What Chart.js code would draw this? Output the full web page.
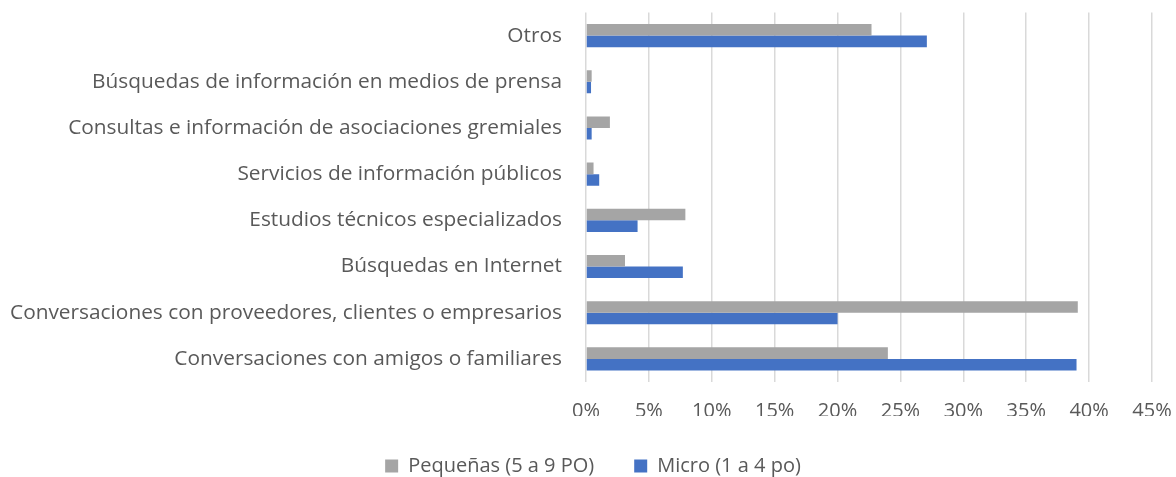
<!DOCTYPE html>
<html>
<head>
<meta charset="utf-8">
<script src="https://cdn.jsdelivr.net/npm/chart.js@4/dist/chart.umd.min.js"></script>
<style>
  html, body { margin: 0; padding: 0; background: #fff; }
  #wrap { width: 1176px; height: 477px; }
</style>
</head>
<body>
<div id="wrap"><canvas id="grafica"></canvas></div>
<script>
var categorias = [
    "Otros",
    "Búsquedas de información en medios de prensa",
    "Consultas e información de asociaciones gremiales",
    "Servicios de información públicos",
    "Estudios técnicos especializados",
    "Búsquedas en Internet",
    "Conversaciones con proveedores, clientes o empresarios",
    "Conversaciones con amigos o familiares"
];
var pequenas = [0.227, 0.0045, 0.019, 0.006, 0.079, 0.031, 0.391, 0.240];
var micro = [0.271, 0.004, 0.0045, 0.0105, 0.041, 0.077, 0.200, 0.390];
var nombres = ["Pequeñas (5 a 9 PO)", "Micro (1 a 4 po)"];

var fuente = "'Open Sans', 'Noto Sans', sans-serif";
var gris = "#595959";

// la leyenda ocupa menos alto que lo que pide su padding
var altoLeyenda = {
    id: "altoLeyenda",
    beforeLayout: function(chart) {
        var ley = chart.legend;
        if (ley && !ley._ajustada) {
            var fitOriginal = ley.fit;
            ley.fit = function() {
                fitOriginal.call(this);
                this.height = 61;
            };
            ley._ajustada = true;
        }
    }
};

let ctx = document.getElementById("grafica").getContext("2d");

var chart = new Chart(ctx, {
    type: "bar",
    data: {
        labels: categorias,
        datasets: [
            {
                label: nombres[0],
                data: pequenas,
                backgroundColor: "#A5A5A5",
                barPercentage: 1,
                categoryPercentage: 0.5
            },
            {
                label: nombres[1],
                data: micro,
                backgroundColor: "#4472C4",
                barPercentage: 1,
                categoryPercentage: 0.5
            }
        ]
    },
    plugins: [altoLeyenda],
    options: {
        indexAxis: "y",
        responsive: true,
        maintainAspectRatio: false,
        animation: false,
        layout: { padding: { left: 10, right: 0, top: 2, bottom: 0 } },
        plugins: {
            legend: {
                position: "bottom",
                labels: {
                    boxWidth: 13,
                    boxHeight: 13,
                    padding: 40,
                    color: gris,
                    font: { family: fuente, size: 20 }
                }
            },
            tooltip: { enabled: false }
        },
        scales: {
            x: {
                min: 0,
                max: 0.45,
                border: { display: false },
                grid: { color: "#D9D9D9", lineWidth: 1.5, drawTicks: false },
                ticks: {
                    stepSize: 0.05,
                    padding: 17,
                    maxRotation: 0,
                    minRotation: 0,
                    color: gris,
                    font: { family: fuente, size: 20 },
                    callback: function(v) { return Math.round(v * 100) + "%"; }
                },
                afterFit: function(scale) {
                    scale.height = 34;
                    scale.paddingRight = 24;
                }
            },
            y: {
                border: { display: false },
                grid: {
                    display: true,
                    drawOnChartArea: false,
                    drawTicks: true,
                    tickLength: 24,
                    tickColor: "rgba(0,0,0,0)"
                },
                ticks: {
                    padding: 0,
                    color: gris,
                    autoSkip: false,
                    font: { family: fuente, size: 20.85 }
                }
            }
        }
    }
});
</script>
</body>
</html>
